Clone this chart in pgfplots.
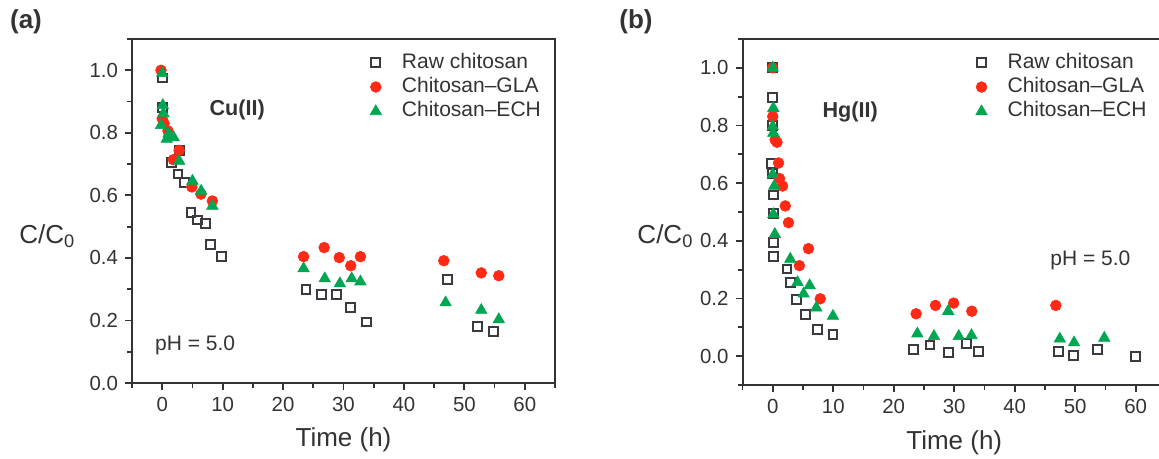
\documentclass[border=0pt]{standalone}
\usepackage{pgfplots}
\pgfplotsset{compat=1.18}
\usepackage{fontspec}
\setmainfont{Liberation Sans}

\definecolor{glared}{HTML}{FF2A16}
\definecolor{echgreen}{HTML}{00A651}
\definecolor{rawgray}{HTML}{3A3A40}
\definecolor{axisgray}{HTML}{333333}

\pgfplotsset{
  kinetics/.style={
    scale only axis,
    anchor=south west,
    axis line style={axisgray, line width=1bp},
    every tick/.style={axisgray, line width=0.9bp},
    tick align=outside,
    tick pos=left,
    major tick length=3.5bp,
    minor tick length=2.4bp,
    xmin=-5, xmax=65,
    xtick={0,10,20,30,40,50,60},
    minor xtick={-5,5,15,25,35,45,55,65},
    ytick={0,0.2,0.4,0.6,0.8,1.0},
    /pgf/number format/assume math mode=true,
    yticklabel style={/pgf/number format/.cd, fixed, fixed zerofill, precision=1, assume math mode=true},
    tick label style={font=\fontsize{10.2bp}{12bp}\selectfont, text=axisgray},
    label style={font=\fontsize{13bp}{15bp}\selectfont, text=axisgray},
    xlabel={Time (h)},
    xlabel style={at={(axis description cs:0.5,-0.166)}, anchor=center},
    ylabel={C/C\textsubscript{0}},
    ylabel style={rotate=-90, anchor=center},
    legend cell align=left,
    legend style={draw=none, fill=none, anchor=north west, inner sep=0bp,
      font=\fontsize{10.5bp}{12bp}\selectfont, text=axisgray,
      row sep=0bp,
      /tikz/every odd column/.style={column sep=9bp},
      nodes={inner sep=1.2bp, text height=7.6bp, text depth=2.2bp}},
    clip=false,
  },
  raw/.style={only marks, mark=square, mark size=2.2bp,
    mark options={draw=rawgray, line width=1bp, fill=none}},
  gla/.style={only marks, mark=*, mark size=2.7bp,
    mark options={draw=glared, fill=glared, line width=0.3bp}},
  ech/.style={only marks, mark=triangle*, mark size=3.3bp,
    mark options={draw=echgreen, fill=echgreen, line width=0.3bp}},
}

% Cu(II) sorption kinetics
\pgfplotstableread{
t     c
0     0.975
0     0.88
1.5   0.704
2.6   0.668
2.8   0.744
3.7   0.640
4.75  0.544
5.85  0.521
7.2   0.510
7.95  0.443
9.75  0.404
23.8  0.300
26.3  0.283
28.9  0.284
31.2  0.242
33.8  0.195
47.2  0.332
52.2  0.181
54.8  0.164
}\cuRaw
\pgfplotstableread{
t     c
-0.2  1.000
0     0.845
0.3   0.830
0.95  0.806
1.85  0.714
2.8   0.744
4.9   0.627
6.4   0.604
8.3   0.582
23.4  0.404
26.8  0.433
29.3  0.401
31.2  0.375
32.8  0.404
46.6  0.391
52.8  0.352
55.7  0.343
}\cuGLA
\pgfplotstableread{
t     c
0     0.990
0.1   0.888
0.2   0.862
-0.2  0.824
1.05  0.797
0.75  0.780
1.9   0.785
2.8   0.710
5.0   0.646
6.45  0.614
8.3   0.566
23.4  0.366
26.9  0.334
29.4  0.318
31.35 0.334
32.8  0.324
46.9  0.257
52.8  0.233
55.7  0.203
}\cuECH

% Hg(II) sorption kinetics
\pgfplotstableread{
t     c
0     1.000
0     0.898
0     0.800
-0.2  0.668
0     0.633
0.1   0.559
0.1   0.494
0.15  0.394
0.15  0.345
2.35  0.302
2.9   0.256
3.9   0.197
5.4   0.144
7.35  0.093
9.95  0.076
23.3  0.022
26.0  0.039
29.0  0.013
32.05 0.043
34.0  0.015
47.2  0.015
49.7  0.003
53.65 0.022
59.9  0.000
}\hgRaw
\pgfplotstableread{
t     c
0     1.000
0     0.831
0.4   0.750
0.7   0.742
0.96  0.670
1.12  0.616
1.62  0.590
2.07  0.521
2.6   0.463
4.4   0.314
5.9   0.373
7.85  0.199
23.7  0.147
26.9  0.176
29.9  0.184
32.9  0.156
46.8  0.176
}\hgGLA
\pgfplotstableread{
t     c
0     1.000
0.1   0.860
0     0.797
0.1   0.774
0     0.630
0.25  0.590
0.1   0.492
0.35  0.423
2.9   0.337
4.1   0.256
5.1   0.216
6.1   0.245
7.2   0.168
9.95  0.139
23.9  0.078
26.65 0.069
29.0  0.156
30.75 0.069
32.85 0.072
47.45 0.060
49.8  0.047
54.8  0.063
}\hgECH

\begin{document}
\begin{tikzpicture}

% (a) copper
\begin{axis}[kinetics,
  at={(66bp,38bp)}, width=211.5bp, height=172bp,
  ymin=0, ymax=1.1,
  minor ytick={0.1,0.3,0.5,0.7,0.9,1.1},
  ylabel style={at={(axis description cs:-0.2,0.427)}},
  legend style={at={(axis description cs:0.562,0.968)}},
]
\addplot[raw] table[x=t, y=c] {\cuRaw};
\addplot[gla] table[x=t, y=c] {\cuGLA};
\addplot[ech] table[x=t, y=c] {\cuECH};
\legend{Raw chitosan, Chitosan\textendash GLA, Chitosan\textendash ECH}
\node[font=\bfseries\fontsize{10.8bp}{13bp}\selectfont, text=axisgray] at (axis cs:12.4,0.872) {Cu(II)};
\node[font=\fontsize{10.5bp}{12bp}\selectfont, text=axisgray] at (axis cs:5.45,0.121) {pH = 5.0};
\end{axis}

% (b) mercury
\begin{axis}[kinetics,
  at={(371.25bp,37bp)}, width=211.75bp, height=173bp,
  ymin=-0.1, ymax=1.1,
  minor ytick={-0.1,0.1,0.3,0.5,0.7,0.9,1.1},
  ylabel style={at={(axis description cs:-0.182,0.43)}},
  legend style={at={(axis description cs:0.550,0.968)}},
]
\addplot[raw] table[x=t, y=c] {\hgRaw};
\addplot[gla] table[x=t, y=c] {\hgGLA};
\addplot[ech] table[x=t, y=c] {\hgECH};
\legend{Raw chitosan, Chitosan\textendash GLA, Chitosan\textendash ECH}
\node[font=\bfseries\fontsize{10.8bp}{13bp}\selectfont, text=axisgray] at (axis cs:12.8,0.848) {Hg(II)};
\node[font=\fontsize{10.5bp}{12bp}\selectfont, text=axisgray] at (axis cs:52.5,0.331) {pH = 5.0};
\end{axis}

% panel letters
\node[font=\bfseries\fontsize{13bp}{15bp}\selectfont, text=axisgray] at (13bp,218.5bp) {(a)};
\node[font=\bfseries\fontsize{13bp}{15bp}\selectfont, text=axisgray] at (318bp,218.5bp) {(b)};

\pgfresetboundingbox
\useasboundingbox (0,0) rectangle (579.5bp,229.5bp);
\end{tikzpicture}
\end{document}
